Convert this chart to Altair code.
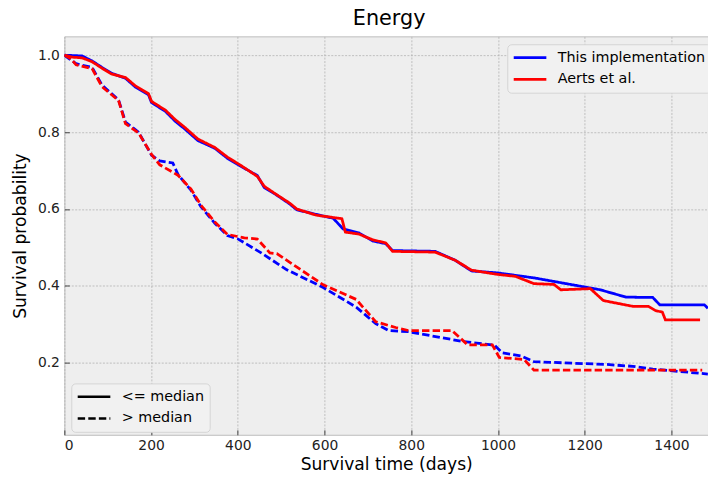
import altair as alt
import pandas as pd

# ---- data (days, survival probability) ----
blue_solid_t = [0, 41, 64, 87, 109, 141, 164, 194, 201, 233, 255, 278, 308, 347, 376, 406, 445, 461, 490, 520,
                536, 581, 620, 643, 679, 711, 741, 757, 855, 901, 939, 999, 1083, 1236, 1295, 1357, 1373, 1476, 1484]
blue_solid_s = [1.0, 0.998, 0.985, 0.968, 0.953, 0.94, 0.917, 0.897, 0.877, 0.854, 0.829, 0.808, 0.778, 0.758,
                0.732, 0.712, 0.687, 0.656, 0.636, 0.613, 0.598, 0.586, 0.576, 0.548, 0.538, 0.517, 0.51, 0.492,
                0.490, 0.467, 0.439, 0.434, 0.421, 0.39, 0.371, 0.37, 0.351, 0.351, 0.342]

red_solid_t = [0, 18, 41, 64, 87, 109, 141, 164, 194, 201, 233, 255, 278, 308, 347, 376, 406, 445, 461, 490, 520,
               536, 581, 620, 640, 648, 679, 711, 741, 757, 855, 901, 939, 999, 1040, 1083, 1129, 1145, 1213, 1243,
               1311, 1347, 1363, 1379, 1386, 1466]
red_solid_s = [1.0, 0.995, 0.993, 0.983, 0.966, 0.951, 0.942, 0.92, 0.9, 0.88, 0.857, 0.833, 0.812, 0.782, 0.76,
               0.735, 0.714, 0.685, 0.659, 0.637, 0.615, 0.6, 0.584, 0.578, 0.575, 0.54, 0.535, 0.52, 0.512, 0.49,
               0.488, 0.467, 0.441, 0.43, 0.425, 0.406, 0.404, 0.39, 0.393, 0.362, 0.347, 0.347, 0.336, 0.332,
               0.312, 0.312]

blue_dash_t = [0, 27, 64, 87, 125, 141, 171, 201, 220, 250, 262, 292, 315, 347, 376, 399, 451, 513, 597, 673, 718,
               748, 794, 917, 992, 1010, 1053, 1083, 1249, 1311, 1357, 1484]
blue_dash_s = [1.0, 0.978, 0.968, 0.922, 0.884, 0.826, 0.80, 0.74, 0.725, 0.72, 0.69, 0.649, 0.606, 0.563, 0.531,
               0.523, 0.488, 0.442, 0.396, 0.345, 0.302, 0.284, 0.281, 0.256, 0.246, 0.226, 0.218, 0.203, 0.196,
               0.191, 0.184, 0.171]

red_dash_t = [0, 16, 27, 64, 87, 125, 141, 171, 201, 220, 262, 292, 315, 347, 376, 415, 445, 474, 490, 597, 673,
              718, 764, 794, 894, 930, 987, 1003, 1060, 1083, 1471]
red_dash_s = [1.0, 0.99, 0.975, 0.965, 0.918, 0.882, 0.822, 0.798, 0.742, 0.715, 0.688, 0.652, 0.61, 0.566, 0.534,
              0.525, 0.522, 0.486, 0.484, 0.403, 0.365, 0.307, 0.292, 0.284, 0.284, 0.247, 0.247, 0.214, 0.209,
              0.181, 0.181]

impl_names = ["This implementation", "Aerts et al."]
impl_colors = ["#0000FF", "#FF0000"]
group_names = ["<= median", "> median"]
x_ticks = [0, 200, 400, 600, 800, 1000, 1200, 1400]
y_ticks = [0.2, 0.4, 0.6, 0.8, 1.0]


def frame(ts, ss, impl, grp):
    return pd.DataFrame({"t": ts, "s": ss, "impl": impl, "grp": grp, "o": list(range(len(ts)))})


blue_df = pd.concat([frame(blue_solid_t, blue_solid_s, impl_names[0], group_names[0]),
                     frame(blue_dash_t, blue_dash_s, impl_names[0], group_names[1])])
red_df = pd.concat([frame(red_solid_t, red_solid_s, impl_names[1], group_names[0]),
                    frame(red_dash_t, red_dash_s, impl_names[1], group_names[1])])

FONT = "DejaVu Sans"

legend_common = dict(title=None, orient="none", direction="vertical",
                     symbolType="stroke", symbolSize=1089, symbolStrokeWidth=2.7,
                     labelFontSize=14.5, labelFont=FONT, labelColor="#000000",
                     fillColor="#F1F1F1", strokeColor="#D4D4D4", cornerRadius=4,
                     padding=5, rowPadding=5, clipHeight=17, labelOffset=10)

x_enc = alt.X("t:Q", scale=alt.Scale(domain=[0, 1484.3], nice=False, zero=False),
              axis=alt.Axis(title="Survival time (days)", values=x_ticks, format="d", offset=-5,
                            tickSize=5, labelPadding=4, titlePadding=3))
y_enc = alt.Y("s:Q", scale=alt.Scale(domain=[0.013, 1.049], nice=False, zero=False),
              axis=alt.Axis(title="Survival probability", values=y_ticks, format=".1f", offset=-5,
                            tickSize=5, labelPadding=5, titlePadding=8))
color_enc = alt.Color("impl:N", scale=alt.Scale(domain=impl_names, range=impl_colors),
                      legend=alt.Legend(legendX=448, legendY=8, **legend_common))
dash_enc = alt.StrokeDash("grp:N", scale=alt.Scale(domain=group_names, range=[[1, 0], [7.5, 3.2]]),
                          legend=alt.Legend(legendX=7, legendY=351, symbolStrokeColor="#000000",
                                            **legend_common))


def layer(df):
    return alt.Chart(df).mark_line(strokeWidth=2.8, clip=True).encode(
        x=x_enc, y=y_enc, color=color_enc, strokeDash=dash_enc, order="o:Q",
        detail="grp:N")


chart = alt.layer(layer(blue_df), layer(red_df)).properties(
    width=651, height=403,
    background="#FFFFFF",
    title=alt.Title("Energy", fontSize=21, font=FONT, fontWeight="normal", color="#000000",
                    baseline="bottom", offset=4, dy=18, dx=3, frame="group"),
    autosize=alt.AutoSizeParams(type="none"),
    padding={"left": 57, "top": 26, "right": 0, "bottom": 39},
).configure_view(
    fill="#EEEEEE", stroke="#BCBCBC", strokeWidth=1
).configure_axis(
    domain=False, grid=True, gridColor="#B2B2B2", gridDash=[2, 1.5], gridWidth=0.8,
    tickColor="#444444", tickWidth=1,
    labelFont=FONT, labelFontSize=14, labelColor="#222222",
    titleFont=FONT, titleFontSize=17.3, titleFontWeight="normal", titleColor="#000000"
)

chart.save("out.html", embed_options={"renderer": "svg", "actions": False})
